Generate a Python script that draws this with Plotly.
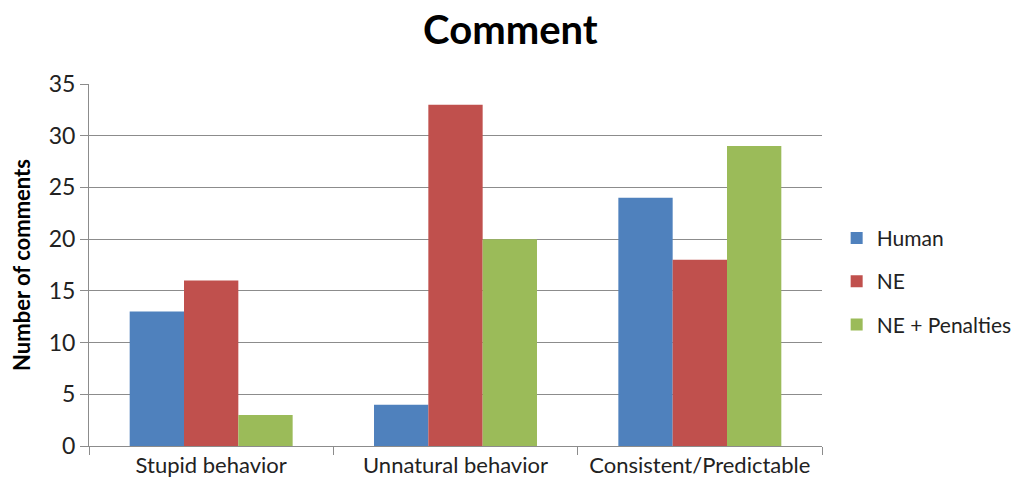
import plotly.graph_objects as go

categories = ["Stupid behavior", "Unnatural behavior", "Consistent/Predictable"]
human = [13, 4, 24]
ne = [16, 33, 18]
ne_penalties = [3, 20, 29]
y_ticks = [0, 5, 10, 15, 20, 25, 30, 35]

FONT = "Lato, 'Open Sans', sans-serif"
GRID = "#8c8c8c"

fig = go.Figure()
series = [
    ("Human", human, "#4F81BD"),
    ("NE", ne, "#C0504D"),
    ("NE + Penalties", ne_penalties, "#9BBB59"),
]
for name, vals, color in series:
    fig.add_trace(go.Bar(
        x=categories, y=vals, name=name, legendgroup=name,
        marker=dict(color=color, line=dict(width=0)),
    ))

fig.update_layout(
    width=1029, height=493,
    margin=dict(l=89, r=204, t=84, b=47),
    paper_bgcolor="white", plot_bgcolor="white",
    barmode="group", bargap=0.333, bargroupgap=0,
    title=dict(text="<b>Comment</b>", x=0.496, xanchor="center", y=0.94, yanchor="middle",
               font=dict(family=FONT, size=40, color="black")),
    font=dict(family=FONT, size=22, color="#222"),
    legend=dict(x=1.02, y=0.455, xanchor="left", yanchor="middle",
                font=dict(size=21, color="#222"), tracegroupgap=13,
                itemwidth=30),
    xaxis=dict(showline=True, linecolor=GRID, linewidth=1,
               ticks="outside", tickson="boundaries", ticklen=8, tickcolor=GRID,
               tickfont=dict(size=22, color="#222")),
    yaxis=dict(range=[0, 35], tickvals=y_ticks, showline=True, linecolor=GRID, linewidth=1,
               ticks="outside", ticklen=8, tickcolor=GRID,
               showgrid=True, gridcolor=GRID, gridwidth=1, zeroline=False,
               tickfont=dict(size=23, color="#222"),
               title=dict(text="<b>Number of comments</b>", standoff=12,
                          font=dict(size=22, color="black"))),
)

fig.write_html("out.html")
